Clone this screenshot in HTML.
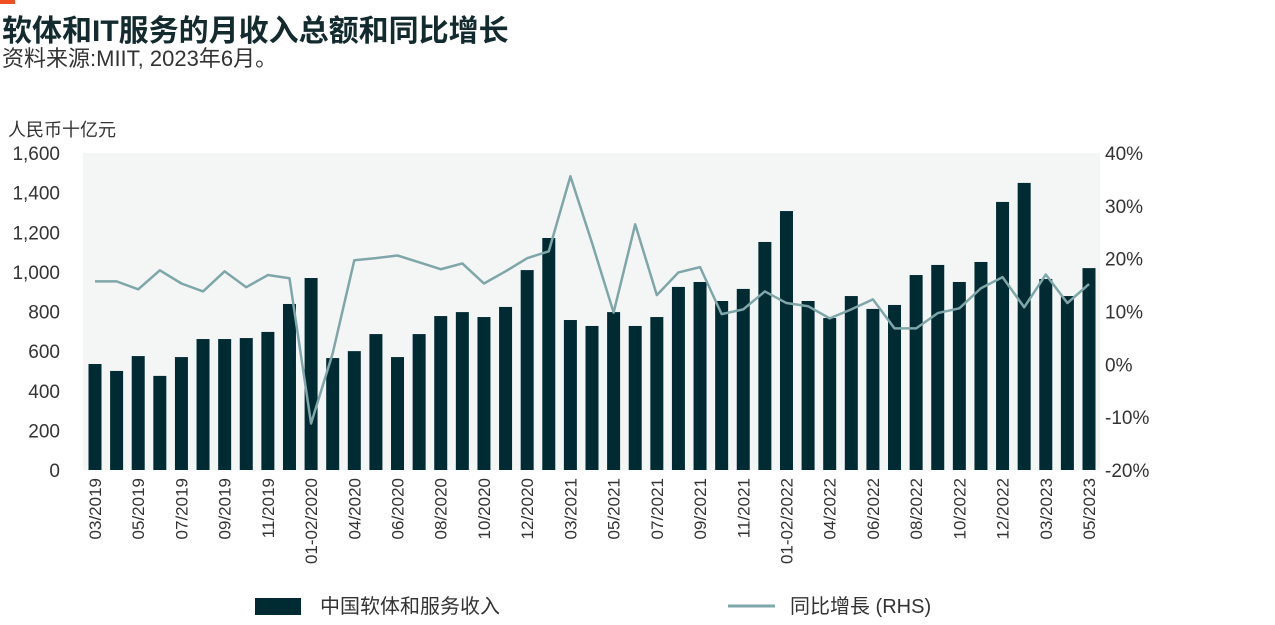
<!DOCTYPE html>
<html><head><meta charset="utf-8"><style>
body{margin:0;background:#fff;width:1275px;height:620px;overflow:hidden;font-family:"Liberation Sans","Noto Sans CJK SC",sans-serif;color:#1c2b2e}
</style></head><body>
<svg width="1275" height="620" xmlns="http://www.w3.org/2000/svg" font-family="Liberation Sans, Noto Sans CJK SC, sans-serif">
<rect x="0" y="0" width="15" height="4" fill="#f04e23"/>
<text x="2" y="41" font-size="30" font-weight="bold" fill="#132a2e">软体和IT服务的月收入总额和同比增长</text>
<text x="2" y="66" font-size="22" fill="#333">资料来源:MIIT, 2023年6月。</text>
<text x="8" y="136" font-size="18" fill="#333">人民币十亿元</text>
<rect x="83" y="153" width="1017" height="317" fill="#f4f6f6"/>
<g id="g"></g>
<g>
<rect x="255" y="598" width="46" height="17" fill="#002b33"/>
<text x="320" y="613" font-size="20" fill="#333">中国软体和服务收入</text>
<line x1="728" y1="606" x2="775" y2="606" stroke="#7fa6a8" stroke-width="3"/>
<text x="790" y="613" font-size="20" fill="#333">同比增長 (RHS)</text>
</g>
</svg>
<script>
const categories=["03/2019","04/2019","05/2019","06/2019","07/2019","08/2019","09/2019","10/2019","11/2019","12/2019","01-02/2020","03/2020","04/2020","05/2020","06/2020","07/2020","08/2020","09/2020","10/2020","11/2020","12/2020","01-02/2021","03/2021","04/2021","05/2021","06/2021","07/2021","08/2021","09/2021","10/2021","11/2021","12/2021","01-02/2022","03/2022","04/2022","05/2022","06/2022","07/2022","08/2022","09/2022","10/2022","11/2022","12/2022","01-02/2023","03/2023","04/2023","05/2023"];
const revenue=[535,500,575,475,570,661,661,666,697,838,969,565,600,686,570,686,777,797,772,823,1009,1171,757,727,797,727,772,924,949,853,914,1151,1307,853,767,878,813,833,984,1035,949,1050,1353,1449,964,878,1019];
const growth=[15.7,15.7,14.2,17.8,15.3,13.8,17.6,14.6,16.9,16.3,-11.2,2.1,19.7,20.1,20.6,19.3,18,19.1,15.3,17.6,20.1,21.4,35.6,23,9.8,26.5,13.1,17.4,18.4,9.5,10.4,13.8,11.6,11,8.7,10.4,12.3,6.8,6.8,9.7,10.6,14.4,16.5,10.8,17,11.6,15.2];
const leftTicks=[0,200,400,600,800,1000,1200,1400,1600];
const rightTicks=[-20,-10,0,10,20,30,40];
const NS="http://www.w3.org/2000/svg",g=document.getElementById('g');
const X0=95,X1=1089,YT=153,YB=470;
const x=i=>X0+(X1-X0)*i/(categories.length-1);
const yL=v=>YB-(YB-YT)*v/1600;
const yR=v=>YB-(YB-YT)*(v+20)/60;
function mk(t,a,txt){const e=document.createElementNS(NS,t);for(const k in a)e.setAttribute(k,a[k]);if(txt!=null)e.textContent=txt;g.appendChild(e);return e;}
leftTicks.forEach(v=>{const e=mk('text',{x:60,y:yL(v)+7,'font-size':19,fill:'#333','text-anchor':'end'},v.toLocaleString('en-US'));

});
rightTicks.forEach(v=>{const e=mk('text',{x:1105,y:yR(v)+7,'font-size':19,fill:'#333'},v+'%');

});
revenue.forEach((v,i)=>{const e=mk('rect',{x:x(i)-6.5,y:yL(v),width:13,height:YB-yL(v),fill:'#002b33'});

});
const p=mk('polyline',{points:growth.map((v,i)=>x(i)+','+yR(v)).join(' '),fill:'none',stroke:'#7fa6a8','stroke-width':2.5,'stroke-linejoin':'round'});


categories.forEach((c,i)=>{if(i%2)return;const xx=x(i)+6;const e=mk('text',{x:0,y:0,'font-size':17,fill:'#333','text-anchor':'end',transform:`translate(${xx},478) rotate(-90)`},c);

});
</script>
</body></html>
